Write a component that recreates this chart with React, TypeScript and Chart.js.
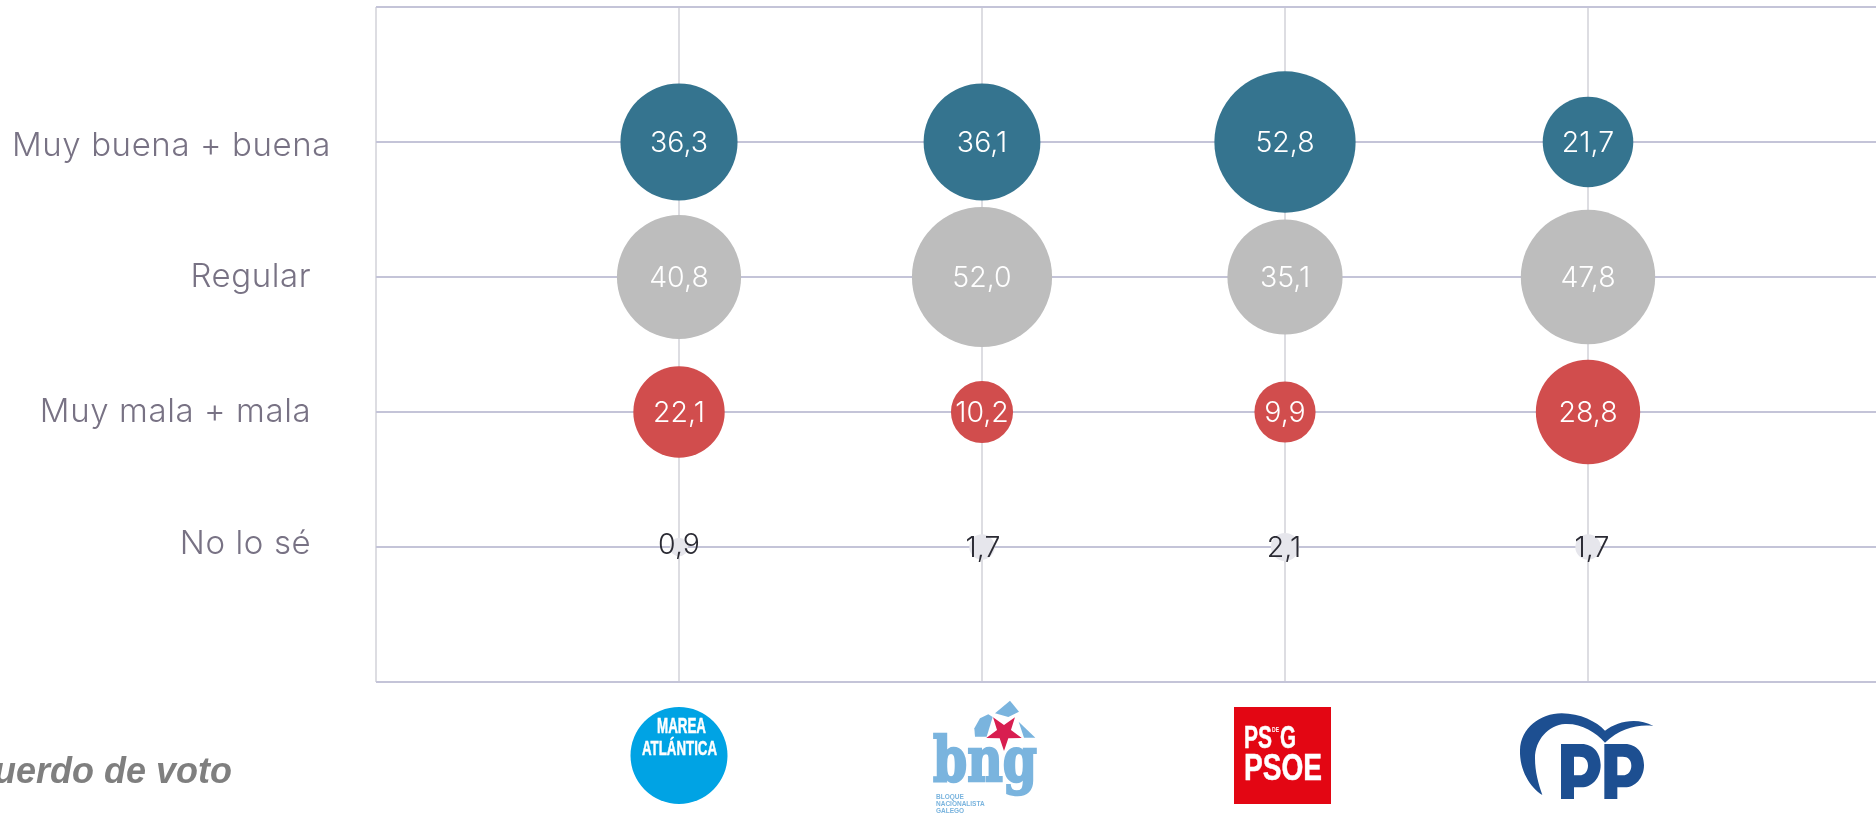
import React, { useEffect, useRef } from "react";
import { Chart, registerables } from "chart.js";

Chart.register(...registerables);

const parties = ["Marea Atlántica", "BNG", "PSG-PSOE", "PP"];
const rows = ["Muy buena + buena", "Regular", "Muy mala + mala", "No lo sé"];
const muyBuena = [36.3, 36.1, 52.8, 21.7];
const regular = [40.8, 52.0, 35.1, 47.8];
const muyMala = [22.1, 10.2, 9.9, 28.8];
const noLoSe = [0.9, 1.7, 2.1, 1.7];
const footerTitle = "Recuerdo de voto";

const FONT = "Inter, 'Open Sans', sans-serif";
const R_PER_SQRT = 9.72;
const WIDTH = 1900;
const HEIGHT = 813;
// Small hand placements seen in the reference (styling only, in px).
const ROW_LABEL_NUDGE = [0, 4, 0, 0, -3, 0];
const NOLOSE_LABEL_NUDGE = [[0, -3], [1, 0], [-1, 0], [4, 0]];

const toPoints = (values: number[], row: number) =>
  values.map((v, i) => ({ x: i + 1, y: row, r: R_PER_SQRT * Math.sqrt(v), v }));

const fmt = (v: number) => v.toFixed(1).replace(".", ",");

// Text squeezed/stretched to a target width, so the logos keep their proportions.
function fitText(ctx: CanvasRenderingContext2D, text: string, x: number, baseline: number, width: number, size: number, font: string, color: string, stroke = 0) {
  ctx.save();
  ctx.font = `bold ${size}px ${font}`;
  ctx.fillStyle = color;
  ctx.strokeStyle = color;
  ctx.lineWidth = stroke;
  ctx.textAlign = "left";
  ctx.textBaseline = "alphabetic";
  const m = ctx.measureText(text).width;
  ctx.translate(x, baseline);
  ctx.scale(width / m, 1);
  ctx.fillText(text, 0, 0);
  if (stroke) ctx.strokeText(text, 0, 0);
  ctx.restore();
}

function poly(ctx: CanvasRenderingContext2D, pts: number[][]) {
  ctx.beginPath();
  pts.forEach(([x, y], i) => (i ? ctx.lineTo(x, y) : ctx.moveTo(x, y)));
  ctx.closePath();
  ctx.fill();
}

function drawMarea(ctx: CanvasRenderingContext2D, cx: number) {
  ctx.fillStyle = "#00a3e4";
  ctx.beginPath();
  ctx.arc(cx, 755.5, 48.5, 0, Math.PI * 2);
  ctx.fill();
  const f = "'Liberation Sans Narrow', 'Liberation Sans'";
  fitText(ctx, "MAREA", cx - 22, 733, 49, 22, f, "#fff", 0.5);
  fitText(ctx, "ATLÁNTICA", cx - 37, 755, 75, 21, f, "#fff", 0.5);
}

function drawBng(ctx: CanvasRenderingContext2D, cx: number) {
  const ox = cx - 62;
  const oy = 695;
  const blue = "#7ab4de";
  ctx.save();
  ctx.translate(ox, oy);
  ctx.scale(1 / 3, 1 / 3);
  ctx.fillStyle = blue;
  poly(ctx, [[270, 17], [297, 50], [265, 66], [225, 55]]);
  poly(ctx, [[205, 58], [218, 66], [200, 125], [165, 125], [163, 100], [180, 70]]);
  poly(ctx, [[296, 80], [346, 128], [312, 128]]);
  ctx.fillStyle = "#d81e50";
  const c = [252, 112];
  const star: number[][] = [];
  for (let i = 0; i < 10; i++) {
    const a = Math.PI / 2 + (i * Math.PI) / 5;
    const r = i % 2 ? 22 : 56;
    star.push([c[0] + r * Math.cos(a), c[1] + r * Math.sin(a)]);
  }
  poly(ctx, star);
  ctx.restore();
  fitText(ctx, "bng", ox + 13, 781, 104, 62, "'DejaVu Serif'", blue, 2.5);
  ctx.font = "bold 6.5px 'Liberation Sans'";
  ctx.fillStyle = blue;
  ctx.textAlign = "left";
  ctx.fillText("BLOQUE", ox + 16, 797);
  ctx.fillText("NACIONALISTA", ox + 16, 804);
  ctx.fillText("GALEGO", ox + 16, 811);
}

function drawPsoe(ctx: CanvasRenderingContext2D, cx: number) {
  ctx.fillStyle = "#e30613";
  ctx.fillRect(cx - 51, 707, 97, 97);
  const f = "'Liberation Sans Narrow', 'Liberation Sans'";
  fitText(ctx, "PS", cx - 41, 748, 28, 31, f, "#fff", 0.5);
  fitText(ctx, "G", cx - 5, 748, 16, 31, f, "#fff", 0.5);
  fitText(ctx, "DE", cx - 13, 732, 7, 7, f, "#fff");
  fitText(ctx, "PSOE", cx - 41, 780, 78, 37, f, "#fff", 0.5);
}

function drawPp(ctx: CanvasRenderingContext2D, cx: number) {
  ctx.save();
  ctx.translate(cx - 78, 700);
  ctx.scale(1 / 3, 1 / 3);
  ctx.fillStyle = "#1d4f91";
  ctx.fill(new Path2D("M97 285 C60 262 28 210 30 150 C32 85 90 40 155 40 C210 40 260 65 285 92 C320 65 380 50 430 78 C385 72 330 85 285 128 C255 95 215 70 165 72 C115 75 75 120 75 175 C75 215 85 250 97 285 Z"));
  const p = "M153 297 V132 H215 C250 132 272 160 272 195 C272 235 245 262 215 262 H192 V297 Z M192 170 V226 H208 C225 226 234 212 234 197 C234 180 225 170 208 170 Z";
  ctx.fill(new Path2D(p), "evenodd");
  ctx.translate(130, 0);
  ctx.fill(new Path2D(p), "evenodd");
  ctx.restore();
}

const logos = [drawMarea, drawBng, drawPsoe, drawPp];

const decorPlugin = {
  id: "decor",
  afterLayout(chart: any) {
    const items = chart.scales.y.getLabelItems();
    items.forEach((it: any, i: number) => {
      it.options.translation = [it.options.translation[0], it.options.translation[1] + (ROW_LABEL_NUDGE[i] || 0)];
    });
  },
  beforeDraw(chart: any) {
    chart.ctx.letterSpacing = "0.6px";
  },
  beforeDatasetsDraw(chart: any) {
    chart.ctx.letterSpacing = "0px";
  },
  afterDatasetsDraw(chart: any) {
    const { ctx, scales } = chart;
    ctx.save();
    ctx.textAlign = "center";
    ctx.textBaseline = "middle";
    chart.data.datasets.forEach((ds: any, di: number) => {
      chart.getDatasetMeta(di).data.forEach((el: any, i: number) => {
        const nudge = di === 3 ? NOLOSE_LABEL_NUDGE[i] : [0, 0];
        ctx.font = `300 28.5px ${FONT}`;
        ctx.fillStyle = ds.labelColor;
        ctx.fillText(fmt(ds.data[i].v), el.x + nudge[0], el.y + 1.5 + nudge[1]);
      });
    });
    logos.forEach((draw, i) => draw(ctx, scales.x.getPixelForValue(i + 1)));
    ctx.font = "italic bold 36px 'Liberation Sans'";
    ctx.fillStyle = "#7f7f7f";
    ctx.textAlign = "right";
    ctx.textBaseline = "alphabetic";
    ctx.fillText(footerTitle, 232, 783);
    ctx.restore();
  },
};

export default function App() {
  const ref = useRef<HTMLCanvasElement>(null);
  useEffect(() => {
    const chart = new Chart(ref.current!, {
      type: "bubble",
      data: {
        datasets: [
          { label: rows[0], data: toPoints(muyBuena, 1), backgroundColor: "#35748f", labelColor: "#ffffff" },
          { label: rows[1], data: toPoints(regular, 2), backgroundColor: "#bdbdbd", labelColor: "#ffffff" },
          { label: rows[2], data: toPoints(muyMala, 3), backgroundColor: "#d14d4d", labelColor: "#ffffff" },
          { label: rows[3], data: toPoints(noLoSe, 4), backgroundColor: "#e6e6ec", labelColor: "#2a2a33" },
        ] as any,
      },
      options: {
        responsive: false,
        animation: false,
        layout: { autoPadding: false, padding: { top: 7, left: 0, right: 9, bottom: 0 } },
        plugins: { legend: { display: false }, tooltip: { enabled: false } },
        elements: { point: { borderWidth: 0 } },
        scales: {
          x: {
            type: "linear",
            min: 0,
            max: 5,
            grid: { color: "#dddde2", lineWidth: 2, drawTicks: false },
            border: { display: false },
            ticks: { display: false, stepSize: 1 },
            afterFit: (s: any) => { s.height = 131; },
          },
          y: {
            type: "linear",
            reverse: true,
            min: 0,
            max: 5,
            afterBuildTicks: (s: any) => {
              s.ticks = [0, 1, 2, 3, 4, 5].map((value) => ({ value }));
            },
            grid: { color: "#c4c4d8", lineWidth: 2, drawTicks: false },
            border: { display: false },
            ticks: {
              padding: 45,
              labelOffset: 0,
              color: "#787284",
              font: { family: FONT, size: 33, weight: 300 as any },
              callback: (v: any) => {
                const name = rows[Number(v) - 1];
                if (!name) return "";
                return Number(v) === 1 ? name : name + "\u00a0\u00a0";
              },
            },
            afterFit: (s: any) => {
              s.width = 376;
              s.paddingTop = 0;
              s.paddingBottom = 0;
            },
          },
        },
      },
      plugins: [decorPlugin],
    } as any);
    return () => chart.destroy();
  }, []);
  return (
    <div style={{ position: "fixed", left: 0, top: 0, width: 1876, height: HEIGHT, overflow: "hidden", background: "#fff" }}>
      <canvas ref={ref} width={WIDTH} height={HEIGHT} style={{ display: "block" }} />
    </div>
  );
}
